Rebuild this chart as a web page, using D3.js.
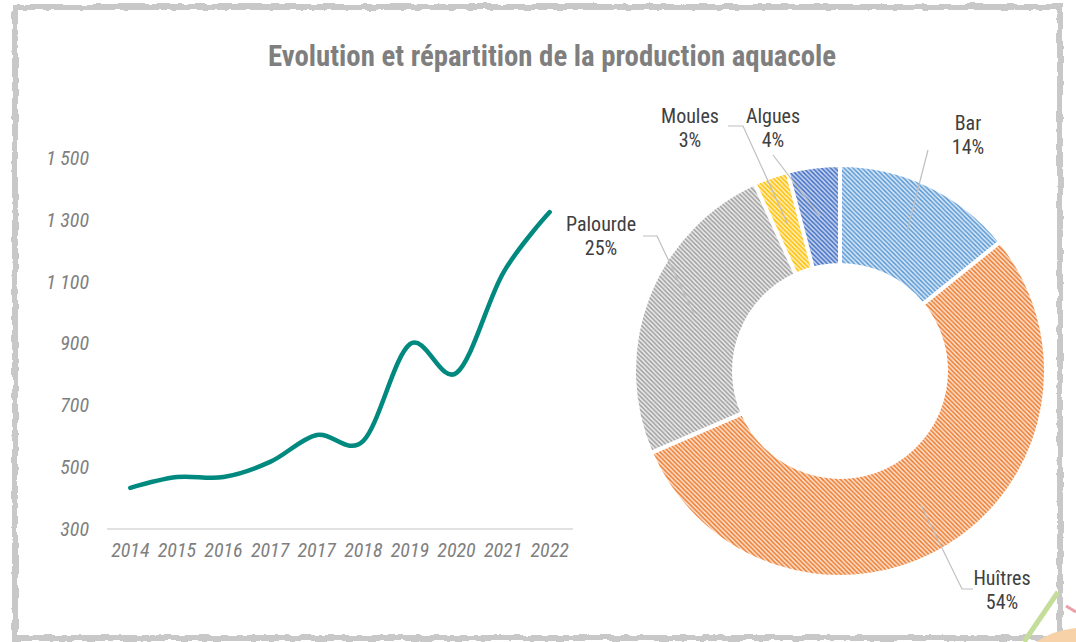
<!DOCTYPE html>
<html>
<head>
<meta charset="utf-8">
<script src="https://cdn.jsdelivr.net/npm/d3@7"></script>
<style>
  body { margin: 0; background: #fff; }
  svg { display: block; }
</style>
</head>
<body>
<svg id="chart" width="1076" height="642"></svg>
<script>
// Données : évolution de la production (courbe)
const years = ["2014", "2015", "2016", "2017", "2017", "2018", "2019", "2020", "2021", "2022"];
const production = [433, 468, 468, 517, 604, 585, 898, 805, 1128, 1325];
const yTicks = [300, 500, 700, 900, 1100, 1300, 1500];

// Données : répartition par espèce (anneau)
const species = ["Bar", "Huîtres", "Palourde", "Moules", "Algues"];
const shares = [14.2, 54.3, 24.7, 2.7, 4.1];
const shareLabels = ["14%", "54%", "25%", "3%", "4%"];

const FONT = "'Liberation Sans Narrow', 'Roboto Condensed', 'Liberation Sans', Arial, sans-serif";

// couleurs des motifs (fond clair + hachures)
const palette = {
  "Bar":      { bg: "#dde9f7", fg: "#5b9bd5" },
  "Huîtres":  { bg: "#fde4d3", fg: "#ed7d31" },
  "Palourde": { bg: "#eeeeee", fg: "#a0a0a0" },
  "Moules":   { bg: "#fff1c6", fg: "#ffc000" },
  "Algues":   { bg: "#cdd8f2", fg: "#4472c4" }
};

// position des étiquettes du donut + départ des lignes de rappel
const labelLayout = {
  "Bar":      { x: 968,  y: 123, lead: [[928, 150]] },
  "Huîtres":  { x: 1002, y: 578, lead: [[973, 589], [962, 589]] },
  "Palourde": { x: 601,  y: 224, lead: [[643, 236], [657, 236]] },
  "Moules":   { x: 690,  y: 116, lead: [[728, 126], [743, 126]] },
  "Algues":   { x: 773,  y: 116, lead: [[773, 155]] }
};

const svg = d3.select("#chart");
const defs = svg.append("defs");

// Cadre "crayonné"
const rough = defs.append("filter").attr("id", "rough")
  .attr("x", "-5%").attr("y", "-5%").attr("width", "110%").attr("height", "110%");
rough.append("feTurbulence").attr("type", "fractalNoise")
  .attr("baseFrequency", "0.09").attr("numOctaves", 2).attr("seed", 3).attr("result", "n");
rough.append("feDisplacementMap").attr("in", "SourceGraphic").attr("in2", "n")
  .attr("scale", 5).attr("xChannelSelector", "R").attr("yChannelSelector", "G");

svg.append("rect")
  .attr("x", 15).attr("y", 7)
  .attr("width", 1045).attr("height", 631)
  .attr("fill", "none")
  .attr("stroke", "#c8c8c8")
  .attr("stroke-width", 6)
  .attr("filter", "url(#rough)");

// petits traits de logo en bas à droite
svg.append("path").attr("d", "M1058,592 L1024,642").attr("stroke", "#c5dd9a").attr("stroke-width", 5).attr("fill", "none");
svg.append("path").attr("d", "M1036,642 Q1054,630 1076,628 L1076,642 Z").attr("fill", "#f7d2a8");
svg.append("path").attr("d", "M1066,606 L1076,612").attr("stroke", "#e9a0a8").attr("stroke-width", 3);

// Titre
svg.append("text")
  .attr("x", 552).attr("y", 66)
  .attr("text-anchor", "middle")
  .attr("font-family", FONT)
  .attr("font-weight", "bold")
  .attr("font-size", 28.8)
  .attr("fill", "#7f7f7f")
  .text("Evolution et répartition de la production aquacole");

// ---------- Courbe ----------
const x = d3.scaleBand()
  .domain(d3.range(years.length))
  .range([107, 573]);

const y = d3.scaleLinear()
  .domain([300, 1500])
  .range([529, 158]);

svg.append("line")
  .attr("x1", 107).attr("x2", 573)
  .attr("y1", y(300)).attr("y2", y(300))
  .attr("stroke", "#d9d9d9").attr("stroke-width", 1.5);

const yAxis = svg.append("g")
  .attr("transform", "translate(97,0)")
  .call(d3.axisLeft(y).tickValues(yTicks).tickSize(0).tickPadding(8)
    .tickFormat(d => d3.format(",")(d).replace(",", " ")));
yAxis.select(".domain").remove();
yAxis.selectAll("text")
  .attr("font-family", FONT)
  .attr("font-style", "italic")
  .attr("font-size", 20)
  .attr("fill", "#7f7f7f");

const xAxis = svg.append("g")
  .attr("transform", `translate(0,${y(300)})`)
  .call(d3.axisBottom(x).tickSize(0).tickPadding(14).tickFormat(i => years[i]));
xAxis.select(".domain").remove();
xAxis.selectAll("text")
  .attr("font-family", FONT)
  .attr("font-style", "italic")
  .attr("font-size", 20)
  .attr("fill", "#7f7f7f");

const line = d3.line()
  .x((d, i) => x(i) + x.bandwidth() / 2)
  .y(d => y(d))
  .curve(d3.curveCardinal.tension(0));

svg.append("path")
  .datum(production)
  .attr("d", line)
  .attr("fill", "none")
  .attr("stroke", "#00897f")
  .attr("stroke-width", 4.5)
  .attr("stroke-linecap", "round");

// ---------- Donut ----------
species.forEach((s, i) => {
  const p = defs.append("pattern")
    .attr("id", "hatch" + i)
    .attr("patternUnits", "userSpaceOnUse")
    .attr("width", 4.5).attr("height", 4.5);
  p.append("rect").attr("width", 4.5).attr("height", 4.5).attr("fill", palette[s].bg);
  p.append("path")
    .attr("d", "M-1,-1 L5.5,5.5 M-1,3.5 L1,5.5 M3.5,-1 L5.5,1")
    .attr("stroke", palette[s].fg)
    .attr("stroke-width", 1.6);
});

const cx = 840, cy = 371;
const outerR = 206, innerR = 106;

const pie = d3.pie().sort(null).value(d => d)(shares);
const arc = d3.arc().innerRadius(innerR).outerRadius(outerR);
const midArc = d3.arc().innerRadius((innerR + outerR) / 2).outerRadius((innerR + outerR) / 2);

const donut = svg.append("g").attr("transform", `translate(${cx},${cy})`);

donut.selectAll("path.slice")
  .data(pie)
  .enter()
  .append("path")
  .attr("class", "slice")
  .attr("d", arc)
  .attr("fill", (d, i) => `url(#hatch${i})`)
  .attr("stroke", "#fff")
  .attr("stroke-width", 4);

// lignes de rappel
pie.forEach((d, i) => {
  const lay = labelLayout[species[i]];
  const c = midArc.centroid(d);
  const pts = lay.lead.concat([[cx + c[0], cy + c[1]]]);
  svg.append("path")
    .attr("d", d3.line()(pts))
    .attr("fill", "none")
    .attr("stroke", "#bfbfbf")
    .attr("stroke-width", 1.2);
});

// étiquettes
species.forEach((s, i) => {
  const lay = labelLayout[s];
  const t = svg.append("text")
    .attr("text-anchor", "middle")
    .attr("font-family", FONT)
    .attr("font-size", 20)
    .attr("fill", "#404040");
  t.append("tspan").attr("x", lay.x).attr("y", lay.y).attr("dy", "0.35em").text(s);
  t.append("tspan").attr("x", lay.x).attr("y", lay.y + 24).attr("dy", "0.35em").text(shareLabels[i]);
});
</script>
</body>
</html>
